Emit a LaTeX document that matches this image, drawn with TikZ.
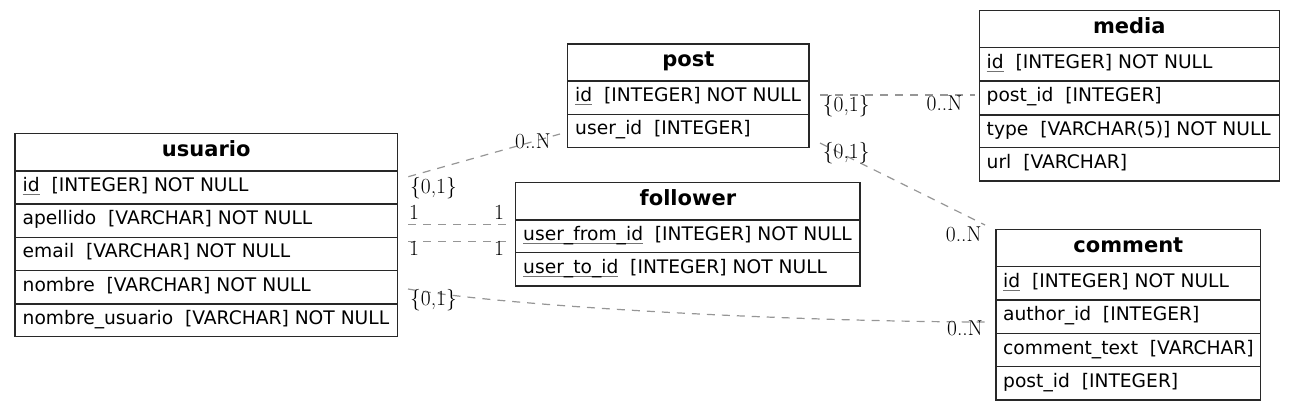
\documentclass[tikz,border=0pt]{standalone}
\usepackage{fontspec}
\setsansfont{DejaVu Sans}
\definecolor{edgegray}{RGB}{150,150,150}
\definecolor{boxline}{RGB}{40,40,40}
\newcommand\pkey[1]{\setbox0\hbox{#1}\rlap{\color{black!55}\rule[-3.4pt]{\wd0}{1.1pt}}#1}
\tikzset{
  tblbox/.style={draw=boxline, line width=1.3pt, anchor=north west, inner sep=0pt, outer sep=0pt},
  rowsep/.style={draw=boxline, line width=1.3pt},
  hdr/.style={font=\sffamily\bfseries\fontsize{21}{23}\selectfont, inner sep=0pt, anchor=base},
  fld/.style={font=\sffamily\fontsize{18.67}{20}\selectfont, inner sep=0pt, anchor=base west},
  card/.style={font=\fontsize{21.5}{23}\selectfont, inner sep=0pt, anchor=base west},
  rel/.style={draw=edgegray, line width=1.2pt, dash pattern=on 8pt off 7pt},
}
\begin{document}
\begin{tikzpicture}[x=1pt,y=-1pt]
\useasboundingbox (0,0) rectangle (1295,411);

% ---------- usuario ----------
\node[tblbox, minimum width=382.3pt, minimum height=203.4pt] (usuario) at (15,133.3) {};
\draw[rowsep] (15,171) -- (397.3,171);
\draw[rowsep] (15,204) -- (397.3,204);
\draw[rowsep] (15,237.3) -- (397.3,237.3);
\draw[rowsep] (15,270.7) -- (397.3,270.7);
\draw[rowsep] (15,304) -- (397.3,304);
\node[hdr] (usuario-h) at (206.2,157) {usuario};
\node[fld] (usuario-id) at (22.5,191.5) {\pkey{id}\ \ [INTEGER] NOT NULL};
\node[fld] (usuario-ap) at (22.5,224.7) {apellido\ \ [VARCHAR] NOT NULL};
\node[fld] (usuario-em) at (22.5,258) {email\ \ [VARCHAR] NOT NULL};
\node[fld] (usuario-no) at (22.5,291.4) {nombre\ \ [VARCHAR] NOT NULL};
\node[fld] (usuario-nu) at (22.5,324.4) {nombre\_usuario\ \ [VARCHAR] NOT NULL};

% ---------- post ----------
\node[tblbox, minimum width=241.3pt, minimum height=103.7pt] (post) at (567.7,44) {};
\draw[rowsep] (567.7,81) -- (809,81);
\draw[rowsep] (567.7,114.3) -- (809,114.3);
\node[hdr] (post-h) at (688.3,67) {post};
\node[fld] (post-id) at (575,101.7) {\pkey{id}\ \ [INTEGER] NOT NULL};
\node[fld] (post-uid) at (575,135) {user\_id\ \ [INTEGER]};

% ---------- follower ----------
\node[tblbox, minimum width=344.3pt, minimum height=103.3pt] (follower) at (515.7,182.7) {};
\draw[rowsep] (515.7,220) -- (860,220);
\draw[rowsep] (515.7,252.7) -- (860,252.7);
\node[hdr] (follower-h) at (687.9,206) {follower};
\node[fld] (follower-from) at (523,240.3) {\pkey{user\_from\_id}\ \ [INTEGER] NOT NULL};
\node[fld] (follower-to) at (523,273.3) {\pkey{user\_to\_id}\ \ [INTEGER] NOT NULL};

% ---------- media ----------
\node[tblbox, minimum width=300pt, minimum height=170.3pt] (media) at (979.3,10.7) {};
\draw[rowsep] (979.3,47.7) -- (1279.3,47.7);
\draw[rowsep] (979.3,81) -- (1279.3,81);
\draw[rowsep] (979.3,115) -- (1279.3,115);
\draw[rowsep] (979.3,147.7) -- (1279.3,147.7);
\node[hdr] (media-h) at (1129.3,33.5) {media};
\node[fld] (media-id) at (986.5,68.3) {\pkey{id}\ \ [INTEGER] NOT NULL};
\node[fld] (media-pid) at (986.5,102) {post\_id\ \ [INTEGER]};
\node[fld] (media-ty) at (986.5,135.3) {type\ \ [VARCHAR(5)] NOT NULL};
\node[fld] (media-url) at (986.5,168.3) {url\ \ [VARCHAR]};

% ---------- comment ----------
\node[tblbox, minimum width=264.7pt, minimum height=170.7pt] (comment) at (996,229.3) {};
\draw[rowsep] (996,266.7) -- (1260.7,266.7);
\draw[rowsep] (996,300) -- (1260.7,300);
\draw[rowsep] (996,333.3) -- (1260.7,333.3);
\draw[rowsep] (996,366.7) -- (1260.7,366.7);
\node[hdr] (comment-h) at (1128.3,252.2) {comment};
\node[fld] (comment-id) at (1003,287.3) {\pkey{id}\ \ [INTEGER] NOT NULL};
\node[fld] (comment-aid) at (1003,320.7) {author\_id\ \ [INTEGER]};
\node[fld] (comment-tx) at (1003,354) {comment\_text\ \ [VARCHAR]};
\node[fld] (comment-pid) at (1003,387.3) {post\_id\ \ [INTEGER]};

% ---------- connector end points ----------
\coordinate (e1a) at (408.3,176.7);
\coordinate (e1b) at (560,134);
\coordinate (e2a) at (408.3,224.3);
\coordinate (e2b) at (512,224.3);
\coordinate (e3a) at (408.3,241.7);
\coordinate (e3b) at (512,241.7);
\coordinate (e4a) at (408,289);
\coordinate (e4b) at (990,322);
\coordinate (e5a) at (820,95);
\coordinate (e5b) at (975,95);
\coordinate (e6a) at (820,143);
\coordinate (e6b) at (985,225);

% ---------- connectors ----------
\draw[rel] (e1a) -- (e1b);
\draw[rel] (e2a) -- (e2b);
\draw[rel] (e3a) -- (e3b);
\draw[rel] (e4a) .. controls (510,307) and (800,322) .. (e4b);
\draw[rel] (e5a) -- (e5b);
\draw[rel] (e6a) -- (e6b);

% ---------- cardinality labels ----------
\node[card] (l1a) at (410,194) {\{0,1\}};
\node[card] (l1b) at (515,148.5) {0..N};
\node[card] (l2a) at (409,220) {1};
\node[card] (l2b) at (494,220) {1};
\node[card] (l3a) at (409,255.7) {1};
\node[card] (l3b) at (494,255.7) {1};
\node[card] (l4a) at (410,305.5) {\{0,1\}};
\node[card] (l4b) at (947,335) {0..N};
\node[card] (l5a) at (822.7,111.5) {\{0,1\}};
\node[card] (l5b) at (926.5,110.7) {0..N};
\node[card] (l6a) at (822.7,159) {\{0,1\}};
\node[card] (l6b) at (945.7,241.5) {0..N};
\end{tikzpicture}
\end{document}
